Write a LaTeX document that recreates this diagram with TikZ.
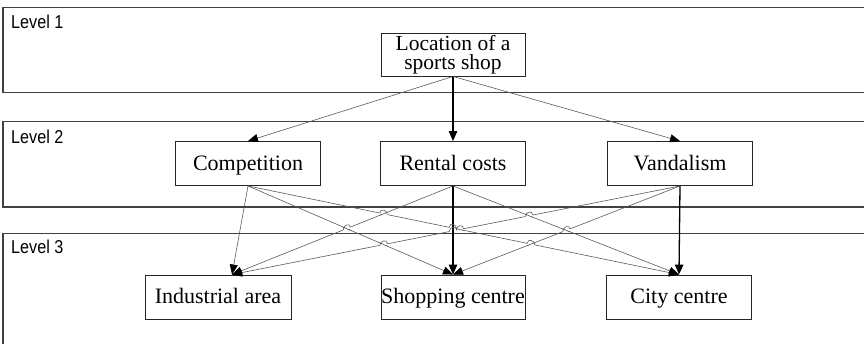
\documentclass[tikz,border=0pt]{standalone}
\usepackage{fontspec}
\setmainfont{Liberation Serif}
\newfontfamily\labelfont{Liberation Sans}
\usetikzlibrary{arrows.meta,calc,intersections}

% line jumps: cut the jumping line, restore the crossed one, then draw the arc
\newcommand{\jumpcut}[3]{%
  \draw[white, line width=2pt] ($(#1)!3.8pt!(#2)$) -- ($(#1)!3.8pt!(#3)$);}
\newcommand{\jumpmend}[4]{%
  \draw[#2] ($(#1)!4.3pt!(#3)$) -- ($(#1)!4.3pt!(#4)$);}
\newcommand{\jumparc}[3]{%
  \draw[thinline] ($(#1)!3.8pt!(#2)$) .. controls +(0,-5) and +(0,-5) .. ($(#1)!3.8pt!(#3)$);}
\newcommand{\lvltext}[1]{\scalebox{1}[1.15]{#1}}

\begin{document}
\begin{tikzpicture}[x=1pt,y=-1pt,
  levelbox/.style={draw=black!75, line width=1.3pt},
  levellabel/.style={font=\labelfont\fontsize{16.2}{16.2}\selectfont, anchor=base west, inner sep=0pt},
  elem/.style={draw=black!85, line width=0.9pt, fill=white, minimum width=145pt,
    minimum height=44pt, inner sep=0pt, align=center,
    font=\fontsize{22}{20}\selectfont},
  oneline/.style={text height=15pt, text depth=2pt},
  thinline/.style={draw=black!65, line width=0.6pt},
  thickline/.style={draw=black, line width=1.3pt},
  link/.style={thinline, -{Triangle[length=10pt,width=8pt,color=black]}},
  mainlink/.style={thickline, -{Triangle[length=10pt,width=8.5pt,color=black]}},
]
\clip (0,0) rectangle (864,343);

% level frames
\draw[levelbox] (3,7.5) rectangle (900,92.5);
\draw[levelbox] (3,121.7) rectangle (900,207);
\draw[levelbox] (3,233.3) rectangle (900,380);
\node[levellabel] (lv1) at (11,28.5) {\lvltext{Level 1}};
\node[levellabel] (lv2) at (11,143) {\lvltext{Level 2}};
\node[levellabel] (lv3) at (11,253) {\lvltext{Level 3}};

% goal
\node[elem, minimum width=144pt, minimum height=43pt, font=\fontsize{21.5}{19.5}\selectfont] (loc) at (453,54.5) {Location of a\\sports shop};

% criteria
\node[elem, oneline] (comp) at (248,163.5) {Competition};
\node[elem, oneline] (rent) at (453,163.5) {Rental costs};
\node[elem, oneline] (vand) at (680,163.5) {Vandalism};

% alternatives
\node[elem, oneline, minimum width=146pt] (ind) at (218,297) {Industrial area};
\node[elem, oneline, minimum width=144pt] (shop) at (453,297) {Shopping centre};
\node[elem, oneline] (city) at (679,297) {City centre};
\coordinate (indin) at ($(ind.north)+(14,0)$);

% goal to criteria
\draw[link] (loc.south) -- (comp.north);
\draw[mainlink] (loc.south) -- (rent.north);
\draw[link] (loc.south) -- (vand.north);

% criteria to alternatives
\draw[link, name path=A] (comp.south) -- (indin);
\draw[link, name path=B] (comp.south) -- (shop.north);
\draw[link, name path=C] (comp.south) -- (city.north);
\draw[link, name path=D] (rent.south) -- (indin);
\draw[mainlink, name path=E] (rent.south) -- (shop.north);
\draw[link, name path=F] (rent.south) -- (city.north);
\draw[link, name path=G] (vand.south) -- (indin);
\draw[link, name path=H] (vand.south) -- (shop.north);
\draw[mainlink, name path=I] (vand.south) -- (city.north);

% crossing points
\path[name intersections={of=B and D, by=bd}];
\path[name intersections={of=C and D, by=cd}];
\path[name intersections={of=B and G, by=bg}];
\path[name intersections={of=C and H, by=ch}];
\path[name intersections={of=F and G, by=fg}];
\path[name intersections={of=F and H, by=fh}];
\path[name intersections={of=C and E, by=ce}];
\path[name intersections={of=G and E, by=ge}];
\path[name intersections={of=C and G, by=cg}];

% cuts in the jumping lines
\jumpcut{bd}{rent.south}{indin}
\jumpcut{cd}{comp.south}{city.north}
\jumpcut{bg}{vand.south}{indin}
\jumpcut{ch}{comp.south}{city.north}
\jumpcut{fg}{vand.south}{indin}
\jumpcut{fh}{vand.south}{shop.north}
\jumpcut{ce}{comp.south}{city.north}
\jumpcut{ge}{vand.south}{indin}
\jumpcut{cg}{vand.south}{indin}

% crossed lines restored
\jumpmend{bd}{thinline}{comp.south}{shop.north}
\jumpmend{cd}{thinline}{rent.south}{indin}
\jumpmend{bg}{thinline}{comp.south}{shop.north}
\jumpmend{ch}{thinline}{vand.south}{shop.north}
\jumpmend{fg}{thinline}{rent.south}{city.north}
\jumpmend{fh}{thinline}{rent.south}{city.north}
\jumpmend{ce}{thickline}{rent.south}{shop.north}
\jumpmend{ge}{thickline}{rent.south}{shop.north}
\jumpmend{cg}{thinline}{comp.south}{city.north}

% jump arcs
\jumparc{bd}{rent.south}{indin}
\jumparc{cd}{comp.south}{city.north}
\jumparc{bg}{vand.south}{indin}
\jumparc{ch}{comp.south}{city.north}
\jumparc{fg}{vand.south}{indin}
\jumparc{fh}{vand.south}{shop.north}
\jumparc{ce}{comp.south}{city.north}
\jumparc{ge}{vand.south}{indin}
\jumparc{cg}{vand.south}{indin}
\end{tikzpicture}
\end{document}
